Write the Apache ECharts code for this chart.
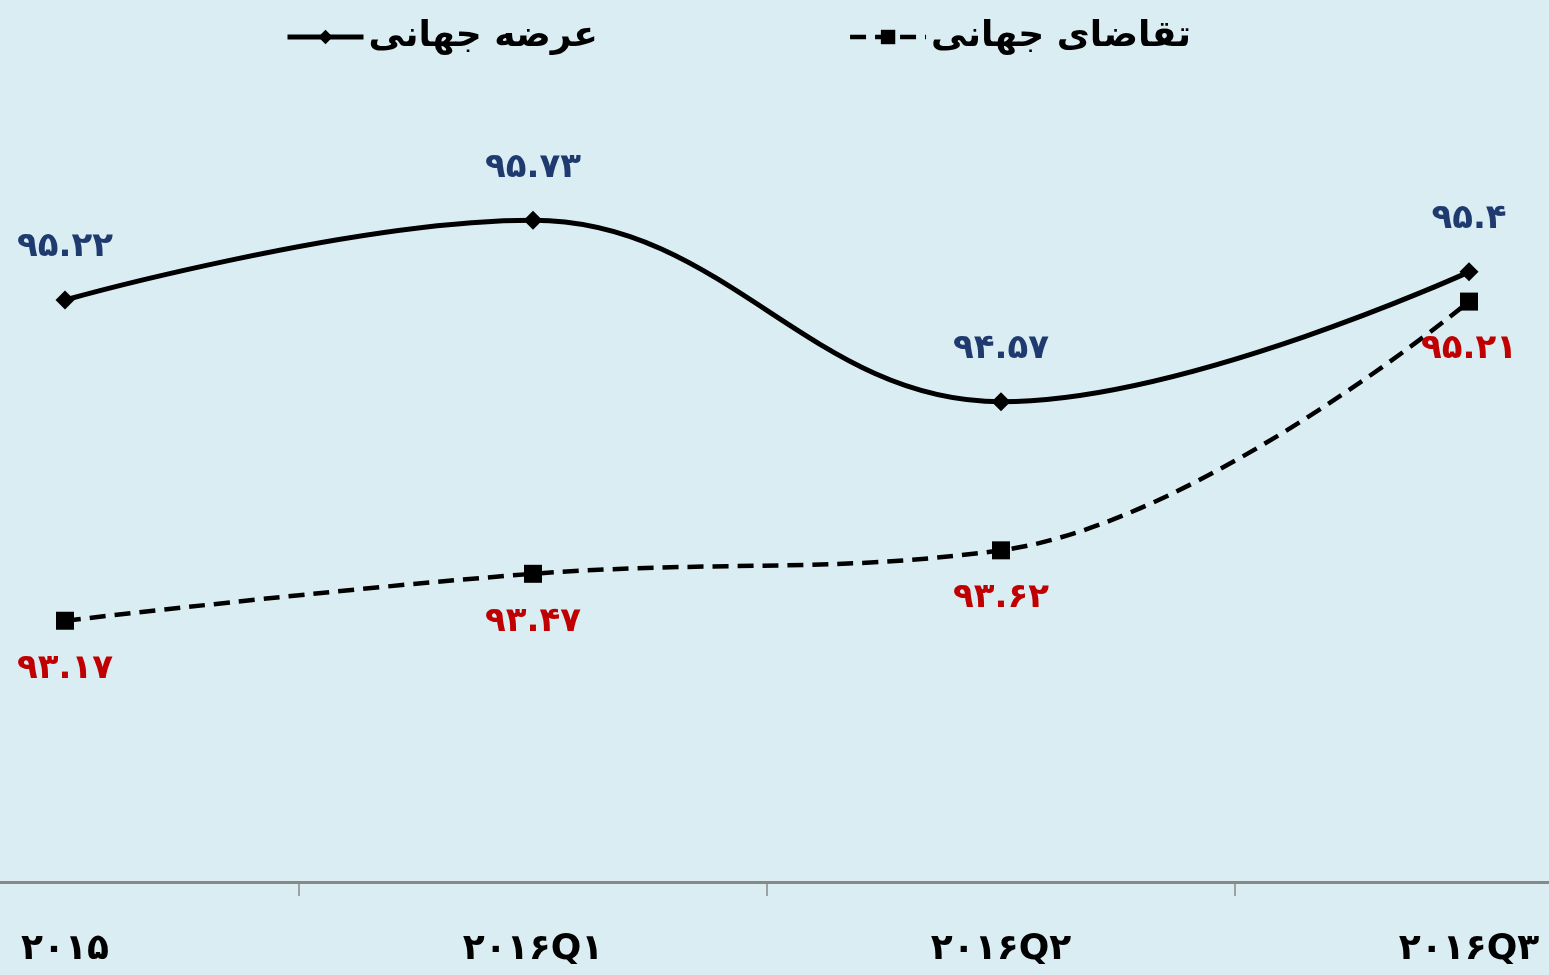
<!DOCTYPE html>
<html><head><meta charset="utf-8">
<script src="https://cdn.jsdelivr.net/npm/echarts@6/dist/echarts.min.js"></script>
<style>html,body{margin:0;padding:0;background:#DAEDF3;}#c{width:1549px;height:975px;}</style>
</head><body><div id="c"></div>
<script>
const categories = ['۲۰۱۵', '۲۰۱۶Q۱', '۲۰۱۶Q۲', '۲۰۱۶Q۳'];
const supplyName = 'عرضه جهانی';
const demandName = 'تقاضای جهانی';
const supply = [95.22, 95.73, 94.57, 95.4];
const demand = [93.17, 93.47, 93.62, 95.21];

const fa = s => String(s).replace(/[0-9]/g, d => '۰۱۲۳۴۵۶۷۸۹'[d]);
const FONT = 'DejaVu Sans';

const chart = echarts.init(document.getElementById('c'));
chart.setOption({
  backgroundColor: '#DAEDF3',
  animation: false,
  textStyle: {fontFamily: FONT},
  legend: {
    top: 14, left: 280, itemGap: 250, itemWidth: 76, itemHeight: 18,
    textStyle: {fontSize: 36, fontWeight: 'bold', color: '#000', fontFamily: FONT},
    data: [
      {name: supplyName, lineStyle: {width: 5, color: '#000'}},
      {name: demandName, lineStyle: {width: 4.5, color: '#000', type: [16, 9]}}
    ]
  },
  grid: {left: -169, right: -154, top: 178, bottom: 93, containLabel: false, outerBoundsMode: 'none'},
  xAxis: {
    type: 'category', data: categories, boundaryGap: true,
    axisLine: {lineStyle: {color: '#888', width: 3}},
    axisTick: {show: true, length: 14, lineStyle: {color: '#888', width: 1.5}},
    axisLabel: {margin: 50, fontSize: 36, fontWeight: 'bold', color: '#000', fontFamily: FONT}
  },
  yAxis: {
    type: 'value', min: 91.5, max: 96, show: false,
    splitLine: {show: false}
  },
  series: [
    {
      name: supplyName, type: 'line', data: supply, smooth: 0.4,
      symbol: 'diamond', symbolSize: 19,
      itemStyle: {color: '#000'},
      lineStyle: {color: '#000', width: 5},
      label: {show: true, position: 'top', distance: 26, color: '#1F3A6E', fontSize: 34, fontWeight: 'bold', fontFamily: FONT,
        formatter: p => fa(p.value)}
    },
    {
      name: demandName, type: 'line', data: demand, smooth: 0.4,
      symbol: 'rect', symbolSize: 18,
      itemStyle: {color: '#000'},
      lineStyle: {color: '#000', width: 4.5, type: [16, 9]},
      label: {show: true, position: 'bottom', distance: 22, color: '#C00000', fontSize: 34, fontWeight: 'bold', fontFamily: FONT,
        formatter: p => fa(p.value)}
    }
  ]
});
</script></body></html>
